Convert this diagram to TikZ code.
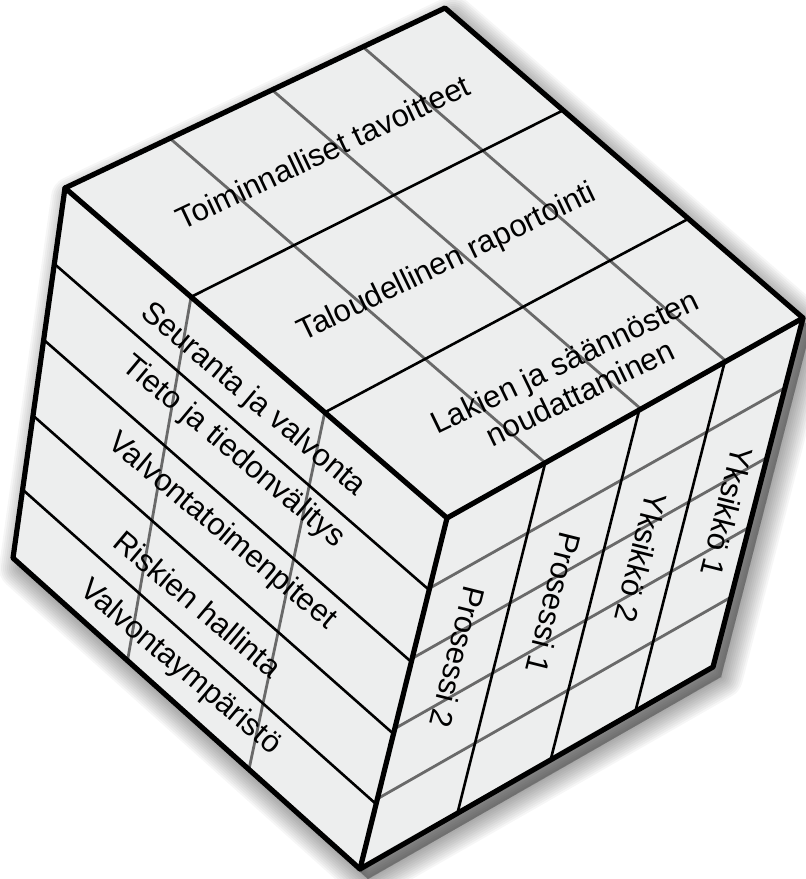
\documentclass[tikz,border=0pt]{standalone}
\usepackage{fontspec}
\setmainfont{Liberation Sans}
\usetikzlibrary{calc}
\definecolor{gridgray}{RGB}{105,105,105}
\definecolor{facefill}{RGB}{237,238,238}
\begin{document}
\begin{tikzpicture}[x=1pt,y=-1pt,
  edge/.style={line width=5.2pt, line join=round, line cap=round, black},
  blk/.style={line width=2.6pt, black},
  gry/.style={line width=2.8pt, gridgray},
  lbl/.style={font=\fontsize{31}{35}\selectfont, inner sep=0pt, align=center}]
\useasboundingbox (0,0) rectangle (806,879);
% corners
\coordinate (A) at (65,188);
\coordinate (B) at (445,8);
\coordinate (C) at (803,318);
\coordinate (D) at (447,518);
\coordinate (G) at (713,667);
\coordinate (E) at (360,869);
\coordinate (F) at (13,558);
% shadow
\begin{scope}[transform canvas={shift={(8pt,-10pt)}}]
  \foreach \w in {44,40,...,0}
    \filldraw[black, opacity=0.035, line width=\w pt, line join=round]
      (A)--(B)--(C)--(G)--(E)--(F)--cycle;
\end{scope}
% faces
\fill[facefill] (A)--(B)--(C)--(G)--(E)--(F)--cycle;
% top face grid
\foreach \f in {0.276,0.545,0.784}
  \draw[gry] ($(A)!\f!(B)$) -- ($(D)!\f!(C)$);
\foreach \f in {0.33,0.68}
  \draw[blk] ($(A)!\f!(D)$) -- ($(B)!\f!(C)$);
% left face grid
\foreach \f in {0.33,0.68}
  \draw[gry] ($(A)!\f!(D)$) -- ($(F)!\f!(E)$);
\foreach \f in {0.205,0.41,0.615,0.815}
  \draw[blk] ($(A)!\f!(F)$) -- ($(D)!\f!(E)$);
% right face grid
\foreach \f in {0.2,0.4,0.6,0.8}
  \draw[gry] ($(D)!\f!(E)$) -- ($(C)!\f!(G)$);
\foreach \f in {0.276,0.54,0.78}
  \draw[blk] ($(D)!\f!(C)$) -- ($(E)!\f!(G)$);
% edges
\draw[edge] (A)--(B)--(C)--(G)--(E)--(F)--cycle;
\draw[edge] (A)--(D)--(C);
\draw[edge] (D)--(E);
% top labels
\node[lbl, rotate=25.3] (t1) at (323,152) {Toiminnalliset tavoitteet};
\node[lbl, rotate=25.8] (t2) at (447,263) {Taloudellinen raportointi};
\node[lbl, rotate=25.8] (t3) at (572,377) {Lakien ja säännösten\\noudattaminen};
% left labels
\node[lbl, rotate=-40] (l1) at (253,400) {Seuranta ja valvonta};
\node[lbl, rotate=-40] (l2) at (233,452) {Tieto ja tiedonvälitys};
\node[lbl, rotate=-40] (l3) at (222,532) {Valvontatoimenpiteet};
\node[lbl, rotate=-40] (l4) at (198,604) {Riskien hallinta};
\node[lbl, rotate=-40] (l5) at (180,668) {Valvontaympäristö};
% right labels
\node[lbl, rotate=-104] (r1) at (458,657) {Prosessi 2};
\node[lbl, rotate=-104] (r2) at (554,603) {Prosessi 1};
\node[lbl, rotate=-104] (r3) at (641,558) {Yksikkö 2};
\node[lbl, rotate=-104] (r4) at (727,512) {Yksikkö 1};
\end{tikzpicture}
\end{document}
